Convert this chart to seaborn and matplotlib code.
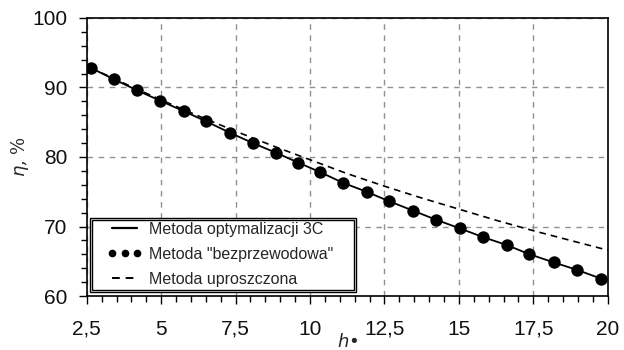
import matplotlib
matplotlib.use("Agg")
import matplotlib.pyplot as plt
import seaborn as sns
import pandas as pd
from matplotlib.lines import Line2D
from matplotlib.ticker import MultipleLocator, FuncFormatter
from matplotlib.patches import Rectangle

# Data
h_points = [2.64, 3.40, 4.18, 4.96, 5.75, 6.52, 7.30, 8.08, 8.86, 9.60, 10.35, 11.10,
            11.90, 12.65, 13.45, 14.22, 15.02, 15.80, 16.60, 17.35, 18.18, 18.98, 19.78]
eta_opt = [92.8, 91.2, 89.6, 88.1, 86.6, 85.1, 83.5, 82.0, 80.6, 79.2, 77.8, 76.3,
           75.0, 73.65, 72.3, 71.0, 69.75, 68.5, 67.35, 66.05, 64.85, 63.75, 62.5]
eta_wireless = eta_opt
h_simple = [2.64, 3.75, 5.0, 6.25, 7.5, 8.75, 10.0, 11.25, 12.5, 13.75, 15.0, 16.25, 17.5, 18.75, 20.0]
eta_simple = [92.8, 90.6, 88.2, 85.9, 83.7, 81.6, 79.6, 77.6, 75.8, 74.1, 72.5, 70.9, 69.4, 68.0, 66.6]

labels = ["Metoda optymalizacji 3C", 'Metoda "bezprzewodowa"', "Metoda uproszczona"]

sns.set_theme(style="white")
plt.rcParams['font.family'] = ['Liberation Sans', 'DejaVu Sans']

W, H = 624, 350
fig = plt.figure(figsize=(W / 100, H / 100), dpi=100)
ax_l, ax_b, ax_w, ax_h = 0.139, 0.154, 0.835, 0.795
ax = fig.add_axes([ax_l, ax_b, ax_w, ax_h])

df_opt = pd.DataFrame({"h": h_points, "eta": eta_opt})
df_w = pd.DataFrame({"h": h_points, "eta": eta_wireless})
df_s = pd.DataFrame({"h": h_simple, "eta": eta_simple})

sns.lineplot(data=df_s, x="h", y="eta", ax=ax, color="black", lw=1.2,
             linestyle=(0, (4, 3)), zorder=3)
sns.lineplot(data=df_opt, x="h", y="eta", ax=ax, color="black", lw=1.3, zorder=4)
sns.scatterplot(data=df_w, x="h", y="eta", ax=ax, color="black", s=80,
                edgecolor="black", linewidth=0, zorder=5)

ax.set_xlim(2.5, 20)
ax.set_ylim(60, 100)
ax.xaxis.set_major_locator(MultipleLocator(2.5))
ax.xaxis.set_minor_locator(MultipleLocator(0.5))
ax.yaxis.set_major_locator(MultipleLocator(10))
ax.yaxis.set_minor_locator(MultipleLocator(2))

def fmt(v, pos):
    return ("%g" % v).replace(".", ",")
ax.xaxis.set_major_formatter(FuncFormatter(fmt))
ax.yaxis.set_major_formatter(FuncFormatter(fmt))

ax.tick_params(axis="both", which="major", direction="out", length=6, width=1,
               color="black", labelsize=15, labelcolor="#111111",
               bottom=True, left=True)
ax.tick_params(axis="x", which="major", pad=11)
ax.tick_params(axis="y", which="major", pad=8)
ax.tick_params(axis="both", which="minor", direction="out", length=4, width=1,
               color="black", bottom=True, left=True)

for sp in ax.spines.values():
    sp.set_visible(True)
    sp.set_color("black")
    sp.set_linewidth(1.2)

ax.grid(True, which="major", color="#909090", linestyle=(0, (4, 4)), linewidth=1)
ax.set_axisbelow(True)

ax.set_xlabel(r"$h$" + "\u2022", fontsize=13, labelpad=-4, family=['DejaVu Serif'], style='italic')
ax.set_ylabel(r"$\eta$, %", fontsize=13, labelpad=1, family=['DejaVu Serif'])

# pixel -> axes fraction helpers
x0p, x1p = ax_l * W, (ax_l + ax_w) * W
ybp, ytp = (1 - ax_b) * H, (1 - ax_b - ax_h) * H
def ax_x(px):
    return (px - x0p) / (x1p - x0p)
def ax_y(py):
    return (ybp - py) / (ybp - ytp)

# double legend frame
for (l, t, r, b) in [(89.5, 217.5, 355.5, 291.5), (91.5, 219.5, 353.5, 289.5)]:
    ax.add_patch(Rectangle((ax_x(l), ax_y(b)), ax_x(r) - ax_x(l), ax_y(t) - ax_y(b),
                           transform=ax.transAxes, facecolor="white" if l < 90 else "none",
                           edgecolor="black", lw=1.0, zorder=9))

handles = [Line2D([], [], color="black", lw=1.6),
           Line2D([], [], color="black", linestyle="none", marker="o", markersize=4.5),
           Line2D([], [], color="black", lw=1.4, linestyle=(0, (4, 3)))]
leg = ax.legend(handles, labels, loc="upper left", bbox_to_anchor=(ax_x(107), ax_y(222)),
                fontsize=11.5, frameon=False, numpoints=3, handlelength=2.2,
                handletextpad=0.45, borderpad=0, labelspacing=0.62, borderaxespad=0)
leg.set_zorder(10)

fig.savefig("out.png", dpi=100)
